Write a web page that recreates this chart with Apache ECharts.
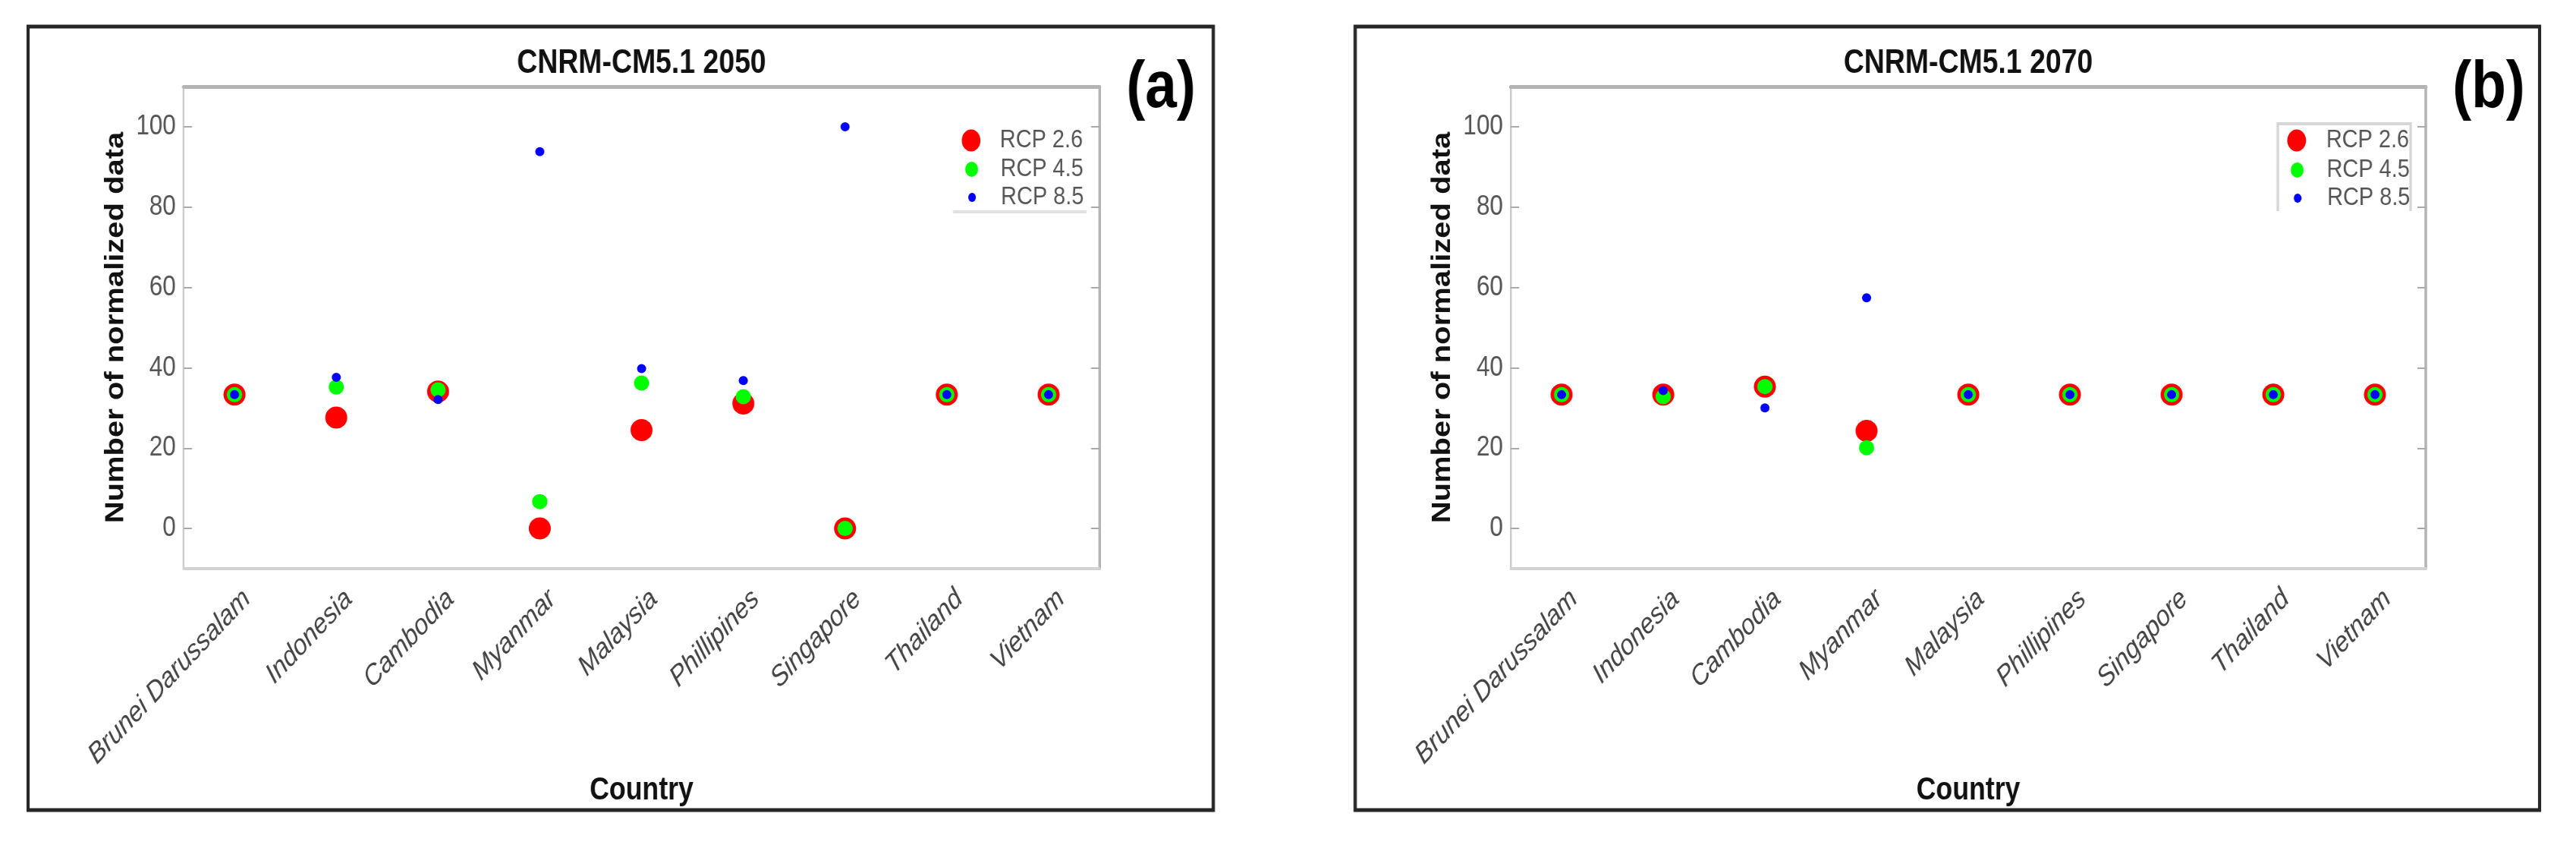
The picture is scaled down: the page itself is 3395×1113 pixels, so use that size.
<!DOCTYPE html>
<html>
<head>
<meta charset="utf-8">
<script src="https://cdn.jsdelivr.net/npm/echarts@6/dist/echarts.min.js"></script>
<style>
  html, body { margin: 0; padding: 0; background: #fff; overflow: hidden; }
  /* the figure is horizontally condensed, so the chart is drawn wider and squeezed */
  #chart { width: 3994px; height: 1113px; transform: scaleX(0.85003); transform-origin: 0 0; }
</style>
</head>
<body>
<div id="chart"></div>
<script>
// countries on the x axis (spelling as in the figure)
const countries = ['Brunei Darussalam', 'Indonesia', 'Cambodia', 'Myanmar', 'Malaysia',
  'Phillipines', 'Singapore', 'Thailand', 'Vietnam'];
const yTicks = [0, 20, 40, 60, 80, 100];

// panel (a) CNRM-CM5.1 2050
const rcp26_2050 = [33.3, 27.6, 34.1, 0, 24.5, 31.1, 0, 33.3, 33.3];
const rcp45_2050 = [33.3, 35.2, 34.5, 6.7, 36.2, 32.8, 0, 33.3, 33.3];
const rcp85_2050 = [33.3, 37.6, 32.1, 93.8, 39.8, 36.8, 100, 33.3, 33.3];

// panel (b) CNRM-CM5.1 2070
const rcp26_2070 = [33.3, 33.3, 35.3, 24.3, 33.3, 33.3, 33.3, 33.3, 33.3];
const rcp45_2070 = [33.3, 32.8, 35.3, 20.1, 33.3, 33.3, 33.3, 33.3, 33.3];
const rcp85_2070 = [33.3, 34.3, 30.0, 57.4, 33.3, 33.3, 33.3, 33.3, 33.3];

const scenarios = ['RCP 2.6', 'RCP 4.5', 'RCP 8.5'];
const titles = ['CNRM-CM5.1 2050', 'CNRM-CM5.1 2070'];
const panelTags = ['(a)', '(b)'];

const SX = 3395 / 3994;              // horizontal squeeze applied by css
const X = function (v) { return v / SX; };  // screen x -> chart x

const SANS = "'Liberation Sans',Arial,Helvetica,sans-serif";
const colors = ['#ff0000', '#00ff00', '#0000ff'];
const sizes = [29, 20, 12];

const grids = [
  { left: X(242), top: 114, width: X(1207), height: 635 },
  { left: X(1991), top: 114, width: X(1206), height: 635 }
];
const frames = [{ x: 37, w: 1562 }, { x: 1786, w: 1561 }];

function xAxes(g) {
  return [{
    type: 'category', gridIndex: g, data: countries, position: 'bottom', boundaryGap: true,
    axisLine: { onZero: false, lineStyle: { color: '#d2d2d2', width: 4 } },
    axisTick: { inside: true, alignWithLabel: true, length: 12, lineStyle: { color: '#999', width: 2 } },
    axisLabel: {
      interval: 0, rotate: 42, fontStyle: 'italic', fontSize: 38, fontFamily: SANS, color: '#444',
      verticalAlign: 'top', padding: [10, 0, 0, 0], margin: 13
    },
    splitLine: { show: false },
    name: 'Country', nameLocation: 'middle', nameGap: 270,
    nameTextStyle: { fontSize: 42, fontWeight: 'bold', fontFamily: SANS, color: '#111' }
  }, {
    type: 'category', gridIndex: g, data: countries, position: 'top', boundaryGap: true,
    axisLine: { onZero: false, lineStyle: { color: '#b4b4b4', width: 5 } },
    axisTick: { inside: true, alignWithLabel: true, length: 12, lineStyle: { color: '#999', width: 2 } },
    axisLabel: { show: false },
    splitLine: { show: false }
  }];
}

function yAxes(g) {
  return [{
    type: 'value', gridIndex: g, min: -10, max: 110, position: 'left',
    axisLine: { show: true, onZero: false, lineStyle: { color: '#cdcdcd', width: 3 } },
    axisTick: { show: true, inside: true, length: 13, customValues: yTicks, lineStyle: { color: '#aaa', width: 2 } },
    axisLabel: { customValues: yTicks, fontSize: 37, fontFamily: SANS, color: '#555', margin: 12 },
    splitLine: { show: false },
    name: 'Number of normalized data', nameLocation: 'middle', nameGap: 85, nameRotate: 90,
    nameTextStyle: { fontSize: 40, fontWeight: 'bold', fontFamily: SANS, color: '#111' }
  }, {
    type: 'value', gridIndex: g, min: -10, max: 110, position: 'right',
    axisLine: { show: true, onZero: false, lineStyle: { color: '#b4b4b4', width: 4 } },
    axisTick: { show: true, inside: true, length: 13, customValues: yTicks, lineStyle: { color: '#aaa', width: 2 } },
    axisLabel: { show: false },
    splitLine: { show: false }
  }];
}

function scatter(g, i, values) {
  return {
    type: 'scatter', name: scenarios[i], xAxisIndex: g * 2, yAxisIndex: g * 2,
    data: values, symbol: 'circle', symbolSize: [X(sizes[i]), sizes[i]],
    itemStyle: { color: colors[i], opacity: 1 },
    z: 3 + i
  };
}

// legend rows: icon centre x, text start x, row centres (screen px)
const legendSpots = [
  { cx: 1282, tx: 1320, rows: [183, 221, 258] },
  { cx: 3029, tx: 3068, rows: [183, 222, 259] }
];
const legends = [];
legendSpots.forEach(function (spot) {
  scenarios.forEach(function (name, i) {
    const w = X(sizes[i]), h = sizes[i];
    const lh = 30;
    const left = X(spot.cx) - w / 2;
    legends.push({
      left: left, top: spot.rows[i] - Math.max(h, lh) / 2, padding: 0,
      orient: 'vertical', icon: 'circle', itemWidth: w, itemHeight: h,
      selectedMode: false, data: [name],
      textStyle: {
        fontSize: 34, fontFamily: SANS, color: '#555', lineHeight: lh,
        padding: [0, 0, 0, X(spot.tx) - (left + w + 5)]
      }
    });
  });
});

const graphics = [];
frames.forEach(function (f) {
  graphics.push({
    type: 'rect', shape: { x: X(f.x), y: 35, width: X(f.w), height: 1032 },
    style: { fill: 'none', stroke: '#262626', lineWidth: 5 }, z: 10
  });
});
grids.forEach(function (gr, g) {
  graphics.push({
    type: 'text', x: gr.left + gr.width / 2, y: 84,
    style: { text: titles[g], align: 'center', verticalAlign: 'middle',
      fontSize: 44, fontWeight: 'bold', fontFamily: SANS, fill: '#111' }
  });
});
[[1530, 117], [3280, 117]].forEach(function (p, g) {
  graphics.push({
    type: 'text', x: X(p[0]), y: p[1],
    style: { text: panelTags[g], align: 'center', verticalAlign: 'middle',
      fontSize: 88, fontWeight: 'bold', fontFamily: SANS, fill: '#000' }
  });
});
// leftovers of the legend boxes
graphics.push({
  type: 'line', shape: { x1: X(1256), y1: 279, x2: X(1432), y2: 279 },
  style: { stroke: '#e2e2e2', lineWidth: 4 }
});
graphics.push({
  type: 'polyline', shape: { points: [[X(3002), 278], [X(3002), 163], [X(3177), 163], [X(3177), 278]] },
  style: { fill: 'none', stroke: '#d6d6d6', lineWidth: 4 }
});

const chart = echarts.init(document.getElementById('chart'), null, { renderer: 'canvas' });
chart.setOption({
  animation: false,
  backgroundColor: '#fff',
  grid: grids.map(function (gr) { return Object.assign({ outerBoundsMode: 'none', containLabel: false }, gr); }),
  xAxis: xAxes(0).concat(xAxes(1)),
  yAxis: yAxes(0).concat(yAxes(1)),
  legend: legends,
  graphic: graphics,
  series: [
    scatter(0, 0, rcp26_2050), scatter(0, 1, rcp45_2050), scatter(0, 2, rcp85_2050),
    scatter(1, 0, rcp26_2070), scatter(1, 1, rcp45_2070), scatter(1, 2, rcp85_2070)
  ]
});
</script>
</body>
</html>
